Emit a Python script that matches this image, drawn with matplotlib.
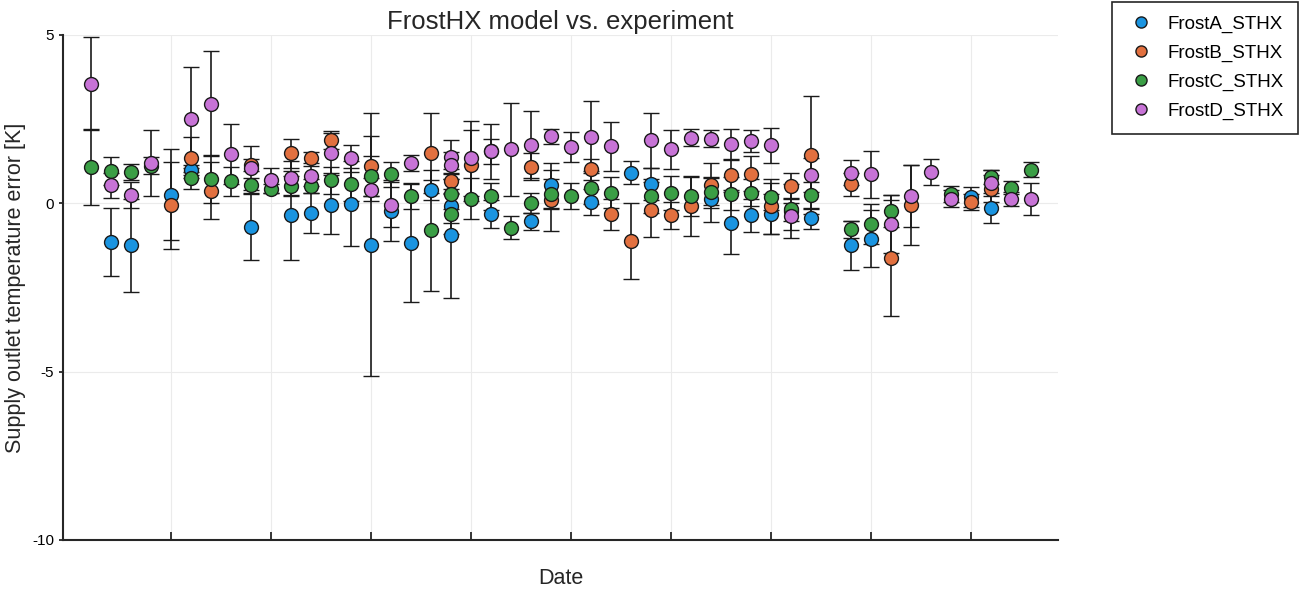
import numpy as np
import matplotlib.pyplot as plt

plt.rcParams['font.family'] = ['Liberation Sans', 'DejaVu Sans']
plt.rcParams['axes.unicode_minus'] = False

names = ['FrostA_STHX', 'FrostB_STHX', 'FrostC_STHX', 'FrostD_STHX']
colors = ['#1a94e0', '#e2703f', '#3a9e45', '#c773d6']

# day index, error value [K], error bar half width [K]
a_day = [2, 3, 5, 6, 9, 11, 12, 13, 14, 15, 16, 17, 18, 19, 19, 21, 23, 24, 26, 28,
         29, 32, 33, 34, 35, 36, 37, 39, 40, 45, 46]
a_val = [-1.15, -1.25, 0.26, 0.98, -0.70, -0.36, -0.29, -0.04, -0.01, -1.23, -0.22, -1.17,
         0.39, -0.08, -0.95, -0.31, -0.53, 0.53, 0.04, 0.91, 0.58, 0.12, -0.58, -0.36, -0.31,
         -0.22, -0.45, -1.25, -1.05, 0.19, -0.14]
a_err = [1.02, 1.38, 1.36, 0.15, 0.97, 1.31, 0.59, 0.87, 1.27, 3.90, 0.90, 1.76, 0.30, 0.50,
         1.86, 0.41, 0.25, 0.67, 0.40, 0.34, 0.48, 0.67, 0.93, 0.49, 0.59, 0.80, 0.30, 0.72,
         0.84, 0.30, 0.44]

b_day = [5, 6, 7, 9, 11, 12, 13, 15, 18, 19, 20, 21, 23, 24, 26, 27, 28, 29, 30, 31, 32,
         33, 34, 35, 36, 37, 39, 41, 42, 45, 46]
b_val = [-0.06, 1.36, 0.37, 1.15, 1.49, 1.36, 1.87, 1.11, 1.50, 0.66, 1.13, 1.55, 1.08, 0.09,
         1.01, -0.33, -1.12, -0.19, -0.36, -0.09, 0.53, 0.85, 0.88, -0.09, 0.51, 1.44, 0.56,
         -1.62, -0.06, 0.04, 0.44]
b_err = [1.30, 0.60, 0.85, 0.18, 0.43, 0.16, 0.27, 0.88, 1.18, 0.35, 1.06, 0.37, 0.40, 0.90,
         0.32, 0.47, 1.12, 0.81, 0.40, 0.88, 0.67, 0.45, 0.52, 0.81, 0.39, 1.76, 0.34, 1.73,
         1.19, 0.23, 0.40]

c_day = [1, 2, 3, 4, 6, 7, 8, 9, 10, 11, 12, 13, 14, 15, 16, 17, 18, 19, 19, 20, 21, 22, 23,
         24, 25, 26, 27, 29, 30, 31, 32, 33, 34, 35, 36, 37, 39, 40, 41, 44, 46, 47, 48]
c_val = [1.08, 0.96, 0.94, 1.12, 0.75, 0.73, 0.66, 0.53, 0.44, 0.51, 0.51, 0.68, 0.56, 0.81,
         0.86, 0.21, -0.80, 0.27, -0.31, 0.14, 0.21, -0.72, 0.01, 0.27, 0.22, 0.47, 0.32, 0.21,
         0.31, 0.22, 0.34, 0.29, 0.31, 0.19, -0.18, 0.24, -0.77, -0.62, -0.23, 0.27, 0.78, 0.47,
         1.00]
c_err = [1.14, 0.43, 0.24, 0.25, 0.31, 0.72, 0.43, 0.22, 0.13, 0.30, 0.20, 0.40, 0.50, 0.60,
         0.37, 0.37, 1.80, 0.45, 0.60, 0.60, 0.40, 0.33, 0.30, 0.45, 0.38, 0.50, 0.45, 0.50,
         0.50, 0.60, 0.40, 0.50, 0.40, 0.40, 0.35, 0.40, 0.25, 0.60, 0.47, 0.24, 0.20, 0.18,
         0.23]

d_day = [1, 2, 3, 4, 6, 7, 8, 9, 10, 11, 12, 13, 14, 15, 16, 17, 19, 19, 20, 21, 22, 23, 24,
         25, 26, 27, 29, 30, 31, 32, 33, 34, 35, 36, 37, 39, 40, 41, 42, 43, 44, 46, 47, 48]
d_val = [3.55, 0.53, 0.24, 1.20, 2.49, 2.96, 1.47, 1.05, 0.68, 0.75, 0.81, 1.50, 1.34, 0.41,
         -0.04, 1.21, 1.38, 1.13, 1.34, 1.54, 1.60, 1.74, 1.99, 1.67, 1.97, 1.70, 1.87, 1.60,
         1.95, 1.92, 1.77, 1.84, 1.72, -0.38, 0.85, 0.91, 0.86, -0.62, 0.21, 0.93, 0.14, 0.60,
         0.12, 0.12]
d_err = [1.38, 0.38, 0.38, 0.97, 1.55, 1.56, 0.89, 0.64, 0.38, 0.50, 0.30, 0.60, 0.40, 0.35,
         0.66, 0.24, 0.50, 0.40, 1.12, 0.82, 1.38, 0.99, 0.23, 0.45, 1.06, 0.73, 0.81, 0.57,
         0.25, 0.25, 0.45, 0.33, 0.53, 0.40, 0.50, 0.37, 0.69, 0.86, 0.92, 0.39, 0.25, 0.38,
         0.21, 0.48]

days = [a_day, b_day, c_day, d_day]
vals = [a_val, b_val, c_val, d_val]
errs = [a_err, b_err, c_err, d_err]

fig = plt.figure(figsize=(13, 5.91), dpi=100)
ax = fig.add_axes([0.0485, 0.0863, 0.7653, 0.8545])

handles = []
for x, y, e, col in zip(days, vals, errs, colors):
    cont = ax.errorbar(x, y, yerr=e, fmt='o', ms=10, mfc=col, mec='#1a1a1a', mew=1.0,
                       ecolor='#1a1a1a', elinewidth=1.2, capsize=6, capthick=1.2)
    handles.append(cont[0])

ax.set_xlim(-0.4, 49.35)
ax.set_ylim(-10, 5)
ax.set_xticks(np.arange(5, 50, 5))
ax.set_xticklabels([])
ax.set_yticks([-10, -5, 0, 5])
ax.tick_params(axis='x', direction='in', length=6, width=1.3, color='#262626')
ax.tick_params(axis='y', direction='out', length=3, width=1.3, labelsize=11, color='#262626')
ax.grid(True, color='#ebebeb', linewidth=0.8)
ax.set_axisbelow(True)
for s in ['top', 'right']:
    ax.spines[s].set_visible(False)
for s in ['left', 'bottom']:
    ax.spines[s].set_linewidth(1.5)
    ax.spines[s].set_color('#262626')

ax.set_title('FrostHX model vs. experiment', fontsize=18.5, color='#262626', pad=4)
ax.set_xlabel('Date', fontsize=15.5, color='#262626', labelpad=17)
ax.set_ylabel('Supply outlet temperature error [K]', fontsize=15.5, color='#262626', labelpad=4)

leg = ax.legend(handles, names, loc='upper right', bbox_to_anchor=(0.9985, 0.997),
                bbox_transform=fig.transFigure, borderaxespad=0, fontsize=13.5,
                markerscale=0.8, fancybox=False, edgecolor='#262626', framealpha=1,
                handletextpad=0.6, labelspacing=0.62, borderpad=0.75, handlelength=1.6)
leg.get_frame().set_linewidth(1.2)

fig.savefig('out.png', dpi=100)
